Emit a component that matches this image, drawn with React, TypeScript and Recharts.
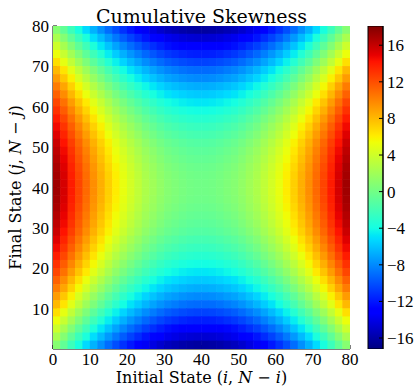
import React from "react";
import { ScatterChart, Scatter, XAxis, YAxis, BarChart, Bar } from "recharts";

// cell centres (2-state wide cells) along the initial-state axis
const stateCenters = [
  1, 3, 5, 7, 9, 11, 13, 15, 17, 19, 21, 23, 25, 27, 29, 31, 33, 35, 37, 39,
  41, 43, 45, 47, 49, 51, 53, 55, 57, 59, 61, 63, 65, 67, 69, 71, 73, 75, 77, 79,
];
// final-state centres, top row first
const rowStates = [
  79, 77, 75, 73, 71, 69, 67, 65, 63, 61, 59, 57, 55, 53, 51, 49, 47, 45, 43, 41,
  39, 37, 35, 33, 31, 29, 27, 25, 23, 21, 19, 17, 15, 13, 11, 9, 7, 5, 3, 1,
];

// cumulative skewness, one string per final-state row (top to bottom)
const skewRows = [
  "0.9 -0.7 -2.3 -3.8 -5.2 -6.6 -7.8 -9.0 -10.1 -11.1 -12.0 -12.8 -13.6 -14.2 -14.8 -15.3 -15.6 -15.9 -16.1 -16.2 -16.2 -16.1 -15.9 -15.6 -15.3 -14.8 -14.2 -13.6 -12.8 -12.0 -11.1 -10.1 -9.0 -7.8 -6.6 -5.2 -3.8 -2.3 -0.7 0.9",
  "2.4 0.8 -0.8 -2.3 -3.7 -5.1 -6.3 -7.5 -8.6 -9.6 -10.5 -11.3 -12.1 -12.7 -13.3 -13.8 -14.1 -14.4 -14.6 -14.7 -14.7 -14.6 -14.4 -14.1 -13.8 -13.3 -12.7 -12.1 -11.3 -10.5 -9.6 -8.6 -7.5 -6.3 -5.1 -3.7 -2.3 -0.8 0.8 2.4",
  "3.9 2.3 0.7 -0.8 -2.2 -3.6 -4.8 -6.0 -7.1 -8.1 -9.0 -9.8 -10.6 -11.2 -11.8 -12.3 -12.6 -12.9 -13.1 -13.2 -13.2 -13.1 -12.9 -12.6 -12.3 -11.8 -11.2 -10.6 -9.8 -9.0 -8.1 -7.1 -6.0 -4.8 -3.6 -2.2 -0.8 0.7 2.3 3.9",
  "5.3 3.7 2.1 0.6 -0.8 -2.2 -3.4 -4.6 -5.7 -6.7 -7.6 -8.4 -9.2 -9.8 -10.4 -10.9 -11.2 -11.5 -11.7 -11.8 -11.8 -11.7 -11.5 -11.2 -10.9 -10.4 -9.8 -9.2 -8.4 -7.6 -6.7 -5.7 -4.6 -3.4 -2.2 -0.8 0.6 2.1 3.7 5.3",
  "6.6 5.0 3.4 1.9 0.5 -0.9 -2.1 -3.3 -4.4 -5.4 -6.3 -7.1 -7.9 -8.5 -9.1 -9.6 -9.9 -10.2 -10.4 -10.5 -10.5 -10.4 -10.2 -9.9 -9.6 -9.1 -8.5 -7.9 -7.1 -6.3 -5.4 -4.4 -3.3 -2.1 -0.9 0.5 1.9 3.4 5.0 6.6",
  "8.0 6.4 4.8 3.3 1.9 0.5 -0.7 -1.9 -3.0 -4.0 -4.9 -5.7 -6.5 -7.1 -7.7 -8.2 -8.5 -8.8 -9.0 -9.1 -9.1 -9.0 -8.8 -8.5 -8.2 -7.7 -7.1 -6.5 -5.7 -4.9 -4.0 -3.0 -1.9 -0.7 0.5 1.9 3.3 4.8 6.4 8.0",
  "9.1 7.5 5.9 4.4 3.0 1.6 0.4 -0.8 -1.9 -2.9 -3.8 -4.6 -5.4 -6.0 -6.6 -7.1 -7.4 -7.7 -7.9 -8.0 -8.0 -7.9 -7.7 -7.4 -7.1 -6.6 -6.0 -5.4 -4.6 -3.8 -2.9 -1.9 -0.8 0.4 1.6 3.0 4.4 5.9 7.5 9.1",
  "10.3 8.7 7.1 5.6 4.2 2.8 1.6 0.4 -0.7 -1.7 -2.6 -3.4 -4.2 -4.8 -5.4 -5.9 -6.2 -6.5 -6.7 -6.8 -6.8 -6.7 -6.5 -6.2 -5.9 -5.4 -4.8 -4.2 -3.4 -2.6 -1.7 -0.7 0.4 1.6 2.8 4.2 5.6 7.1 8.7 10.3",
  "11.3 9.7 8.1 6.6 5.2 3.8 2.6 1.4 0.3 -0.7 -1.6 -2.4 -3.2 -3.8 -4.4 -4.9 -5.2 -5.5 -5.7 -5.8 -5.8 -5.7 -5.5 -5.2 -4.9 -4.4 -3.8 -3.2 -2.4 -1.6 -0.7 0.3 1.4 2.6 3.8 5.2 6.6 8.1 9.7 11.3",
  "12.3 10.7 9.1 7.6 6.2 4.8 3.6 2.4 1.3 0.3 -0.6 -1.4 -2.2 -2.8 -3.4 -3.9 -4.2 -4.5 -4.7 -4.8 -4.8 -4.7 -4.5 -4.2 -3.9 -3.4 -2.8 -2.2 -1.4 -0.6 0.3 1.3 2.4 3.6 4.8 6.2 7.6 9.1 10.7 12.3",
  "13.1 11.5 9.9 8.4 7.0 5.6 4.4 3.2 2.1 1.1 0.2 -0.6 -1.4 -2.0 -2.6 -3.1 -3.4 -3.7 -3.9 -4.0 -4.0 -3.9 -3.7 -3.4 -3.1 -2.6 -2.0 -1.4 -0.6 0.2 1.1 2.1 3.2 4.4 5.6 7.0 8.4 9.9 11.5 13.1",
  "13.9 12.3 10.7 9.2 7.8 6.4 5.2 4.0 2.9 1.9 1.0 0.2 -0.6 -1.2 -1.8 -2.3 -2.6 -2.9 -3.1 -3.2 -3.2 -3.1 -2.9 -2.6 -2.3 -1.8 -1.2 -0.6 0.2 1.0 1.9 2.9 4.0 5.2 6.4 7.8 9.2 10.7 12.3 13.9",
  "14.6 13.0 11.4 9.9 8.5 7.1 5.9 4.7 3.6 2.6 1.7 0.9 0.1 -0.5 -1.1 -1.6 -1.9 -2.2 -2.4 -2.5 -2.5 -2.4 -2.2 -1.9 -1.6 -1.1 -0.5 0.1 0.9 1.7 2.6 3.6 4.7 5.9 7.1 8.5 9.9 11.4 13.0 14.6",
  "15.2 13.6 12.0 10.5 9.1 7.7 6.5 5.3 4.2 3.2 2.3 1.5 0.7 0.1 -0.5 -1.0 -1.3 -1.6 -1.8 -1.9 -1.9 -1.8 -1.6 -1.3 -1.0 -0.5 0.1 0.7 1.5 2.3 3.2 4.2 5.3 6.5 7.7 9.1 10.5 12.0 13.6 15.2",
  "15.8 14.2 12.6 11.1 9.7 8.3 7.1 5.9 4.8 3.8 2.9 2.1 1.3 0.7 0.1 -0.4 -0.7 -1.0 -1.2 -1.3 -1.3 -1.2 -1.0 -0.7 -0.4 0.1 0.7 1.3 2.1 2.9 3.8 4.8 5.9 7.1 8.3 9.7 11.1 12.6 14.2 15.8",
  "16.2 14.6 13.0 11.5 10.1 8.7 7.5 6.3 5.2 4.2 3.3 2.5 1.7 1.1 0.5 0.0 -0.3 -0.6 -0.8 -0.9 -0.9 -0.8 -0.6 -0.3 0.0 0.5 1.1 1.7 2.5 3.3 4.2 5.2 6.3 7.5 8.7 10.1 11.5 13.0 14.6 16.2",
  "16.5 14.9 13.3 11.8 10.4 9.0 7.8 6.6 5.5 4.5 3.6 2.8 2.0 1.4 0.8 0.3 0.0 -0.3 -0.5 -0.6 -0.6 -0.5 -0.3 0.0 0.3 0.8 1.4 2.0 2.8 3.6 4.5 5.5 6.6 7.8 9.0 10.4 11.8 13.3 14.9 16.5",
  "16.8 15.2 13.6 12.1 10.7 9.3 8.1 6.9 5.8 4.8 3.9 3.1 2.3 1.7 1.1 0.6 0.3 0.0 -0.2 -0.3 -0.3 -0.2 0.0 0.3 0.6 1.1 1.7 2.3 3.1 3.9 4.8 5.8 6.9 8.1 9.3 10.7 12.1 13.6 15.2 16.8",
  "17.0 15.4 13.8 12.3 10.9 9.5 8.3 7.1 6.0 5.0 4.1 3.3 2.5 1.9 1.3 0.8 0.5 0.2 0.0 -0.1 -0.1 0.0 0.2 0.5 0.8 1.3 1.9 2.5 3.3 4.1 5.0 6.0 7.1 8.3 9.5 10.9 12.3 13.8 15.4 17.0",
  "17.1 15.5 13.9 12.4 11.0 9.6 8.4 7.2 6.1 5.1 4.2 3.4 2.6 2.0 1.4 0.9 0.6 0.3 0.1 0.0 0.0 0.1 0.3 0.6 0.9 1.4 2.0 2.6 3.4 4.2 5.1 6.1 7.2 8.4 9.6 11.0 12.4 13.9 15.5 17.1",
  "17.1 15.5 13.9 12.4 11.0 9.6 8.4 7.2 6.1 5.1 4.2 3.4 2.6 2.0 1.4 0.9 0.6 0.3 0.1 0.0 0.0 0.1 0.3 0.6 0.9 1.4 2.0 2.6 3.4 4.2 5.1 6.1 7.2 8.4 9.6 11.0 12.4 13.9 15.5 17.1",
  "17.0 15.4 13.8 12.3 10.9 9.5 8.3 7.1 6.0 5.0 4.1 3.3 2.5 1.9 1.3 0.8 0.5 0.2 0.0 -0.1 -0.1 0.0 0.2 0.5 0.8 1.3 1.9 2.5 3.3 4.1 5.0 6.0 7.1 8.3 9.5 10.9 12.3 13.8 15.4 17.0",
  "16.8 15.2 13.6 12.1 10.7 9.3 8.1 6.9 5.8 4.8 3.9 3.1 2.3 1.7 1.1 0.6 0.3 0.0 -0.2 -0.3 -0.3 -0.2 0.0 0.3 0.6 1.1 1.7 2.3 3.1 3.9 4.8 5.8 6.9 8.1 9.3 10.7 12.1 13.6 15.2 16.8",
  "16.5 14.9 13.3 11.8 10.4 9.0 7.8 6.6 5.5 4.5 3.6 2.8 2.0 1.4 0.8 0.3 0.0 -0.3 -0.5 -0.6 -0.6 -0.5 -0.3 0.0 0.3 0.8 1.4 2.0 2.8 3.6 4.5 5.5 6.6 7.8 9.0 10.4 11.8 13.3 14.9 16.5",
  "16.2 14.6 13.0 11.5 10.1 8.7 7.5 6.3 5.2 4.2 3.3 2.5 1.7 1.1 0.5 0.0 -0.3 -0.6 -0.8 -0.9 -0.9 -0.8 -0.6 -0.3 0.0 0.5 1.1 1.7 2.5 3.3 4.2 5.2 6.3 7.5 8.7 10.1 11.5 13.0 14.6 16.2",
  "15.8 14.2 12.6 11.1 9.7 8.3 7.1 5.9 4.8 3.8 2.9 2.1 1.3 0.7 0.1 -0.4 -0.7 -1.0 -1.2 -1.3 -1.3 -1.2 -1.0 -0.7 -0.4 0.1 0.7 1.3 2.1 2.9 3.8 4.8 5.9 7.1 8.3 9.7 11.1 12.6 14.2 15.8",
  "15.2 13.6 12.0 10.5 9.1 7.7 6.5 5.3 4.2 3.2 2.3 1.5 0.7 0.1 -0.5 -1.0 -1.3 -1.6 -1.8 -1.9 -1.9 -1.8 -1.6 -1.3 -1.0 -0.5 0.1 0.7 1.5 2.3 3.2 4.2 5.3 6.5 7.7 9.1 10.5 12.0 13.6 15.2",
  "14.6 13.0 11.4 9.9 8.5 7.1 5.9 4.7 3.6 2.6 1.7 0.9 0.1 -0.5 -1.1 -1.6 -1.9 -2.2 -2.4 -2.5 -2.5 -2.4 -2.2 -1.9 -1.6 -1.1 -0.5 0.1 0.9 1.7 2.6 3.6 4.7 5.9 7.1 8.5 9.9 11.4 13.0 14.6",
  "13.9 12.3 10.7 9.2 7.8 6.4 5.2 4.0 2.9 1.9 1.0 0.2 -0.6 -1.2 -1.8 -2.3 -2.6 -2.9 -3.1 -3.2 -3.2 -3.1 -2.9 -2.6 -2.3 -1.8 -1.2 -0.6 0.2 1.0 1.9 2.9 4.0 5.2 6.4 7.8 9.2 10.7 12.3 13.9",
  "13.1 11.5 9.9 8.4 7.0 5.6 4.4 3.2 2.1 1.1 0.2 -0.6 -1.4 -2.0 -2.6 -3.1 -3.4 -3.7 -3.9 -4.0 -4.0 -3.9 -3.7 -3.4 -3.1 -2.6 -2.0 -1.4 -0.6 0.2 1.1 2.1 3.2 4.4 5.6 7.0 8.4 9.9 11.5 13.1",
  "12.3 10.7 9.1 7.6 6.2 4.8 3.6 2.4 1.3 0.3 -0.6 -1.4 -2.2 -2.8 -3.4 -3.9 -4.2 -4.5 -4.7 -4.8 -4.8 -4.7 -4.5 -4.2 -3.9 -3.4 -2.8 -2.2 -1.4 -0.6 0.3 1.3 2.4 3.6 4.8 6.2 7.6 9.1 10.7 12.3",
  "11.3 9.7 8.1 6.6 5.2 3.8 2.6 1.4 0.3 -0.7 -1.6 -2.4 -3.2 -3.8 -4.4 -4.9 -5.2 -5.5 -5.7 -5.8 -5.8 -5.7 -5.5 -5.2 -4.9 -4.4 -3.8 -3.2 -2.4 -1.6 -0.7 0.3 1.4 2.6 3.8 5.2 6.6 8.1 9.7 11.3",
  "10.3 8.7 7.1 5.6 4.2 2.8 1.6 0.4 -0.7 -1.7 -2.6 -3.4 -4.2 -4.8 -5.4 -5.9 -6.2 -6.5 -6.7 -6.8 -6.8 -6.7 -6.5 -6.2 -5.9 -5.4 -4.8 -4.2 -3.4 -2.6 -1.7 -0.7 0.4 1.6 2.8 4.2 5.6 7.1 8.7 10.3",
  "9.1 7.5 5.9 4.4 3.0 1.6 0.4 -0.8 -1.9 -2.9 -3.8 -4.6 -5.4 -6.0 -6.6 -7.1 -7.4 -7.7 -7.9 -8.0 -8.0 -7.9 -7.7 -7.4 -7.1 -6.6 -6.0 -5.4 -4.6 -3.8 -2.9 -1.9 -0.8 0.4 1.6 3.0 4.4 5.9 7.5 9.1",
  "8.0 6.4 4.8 3.3 1.9 0.5 -0.7 -1.9 -3.0 -4.0 -4.9 -5.7 -6.5 -7.1 -7.7 -8.2 -8.5 -8.8 -9.0 -9.1 -9.1 -9.0 -8.8 -8.5 -8.2 -7.7 -7.1 -6.5 -5.7 -4.9 -4.0 -3.0 -1.9 -0.7 0.5 1.9 3.3 4.8 6.4 8.0",
  "6.6 5.0 3.4 1.9 0.5 -0.9 -2.1 -3.3 -4.4 -5.4 -6.3 -7.1 -7.9 -8.5 -9.1 -9.6 -9.9 -10.2 -10.4 -10.5 -10.5 -10.4 -10.2 -9.9 -9.6 -9.1 -8.5 -7.9 -7.1 -6.3 -5.4 -4.4 -3.3 -2.1 -0.9 0.5 1.9 3.4 5.0 6.6",
  "5.3 3.7 2.1 0.6 -0.8 -2.2 -3.4 -4.6 -5.7 -6.7 -7.6 -8.4 -9.2 -9.8 -10.4 -10.9 -11.2 -11.5 -11.7 -11.8 -11.8 -11.7 -11.5 -11.2 -10.9 -10.4 -9.8 -9.2 -8.4 -7.6 -6.7 -5.7 -4.6 -3.4 -2.2 -0.8 0.6 2.1 3.7 5.3",
  "3.9 2.3 0.7 -0.8 -2.2 -3.6 -4.8 -6.0 -7.1 -8.1 -9.0 -9.8 -10.6 -11.2 -11.8 -12.3 -12.6 -12.9 -13.1 -13.2 -13.2 -13.1 -12.9 -12.6 -12.3 -11.8 -11.2 -10.6 -9.8 -9.0 -8.1 -7.1 -6.0 -4.8 -3.6 -2.2 -0.8 0.7 2.3 3.9",
  "2.4 0.8 -0.8 -2.3 -3.7 -5.1 -6.3 -7.5 -8.6 -9.6 -10.5 -11.3 -12.1 -12.7 -13.3 -13.8 -14.1 -14.4 -14.6 -14.7 -14.7 -14.6 -14.4 -14.1 -13.8 -13.3 -12.7 -12.1 -11.3 -10.5 -9.6 -8.6 -7.5 -6.3 -5.1 -3.7 -2.3 -0.8 0.8 2.4",
  "0.9 -0.7 -2.3 -3.8 -5.2 -6.6 -7.8 -9.0 -10.1 -11.1 -12.0 -12.8 -13.6 -14.2 -14.8 -15.3 -15.6 -15.9 -16.1 -16.2 -16.2 -16.1 -15.9 -15.6 -15.3 -14.8 -14.2 -13.6 -12.8 -12.0 -11.1 -10.1 -9.0 -7.8 -6.6 -5.2 -3.8 -2.3 -0.7 0.9",
];

const xTicks = [0, 10, 20, 30, 40, 50, 60, 70, 80];
const yTicks = [10, 20, 30, 40, 50, 60, 70, 80];
const innerTicks = [10, 20, 30, 40, 50, 60, 70];
const colorbarTicks = [-16, -12, -8, -4, 0, 4, 8, 12, 16];

// colour scale limits
const VMIN = -17.2;
const VMAX = 18.1;
const colorbarData = [{ name: "skew", span: [VMIN, VMAX] }];

const cells = skewRows.flatMap((row, r) =>
  row.split(" ").map((s, c) => ({ x: stateCenters[c], y: rowStates[r], v: Number(s) }))
);

// matplotlib "jet" segment data
const JET_R = [[0, 0], [0.35, 0], [0.66, 1], [0.89, 1], [1, 0.5]];
const JET_G = [[0, 0], [0.125, 0], [0.375, 1], [0.64, 1], [0.91, 0], [1, 0]];
const JET_B = [[0, 0.5], [0.11, 1], [0.34, 1], [0.65, 0], [1, 0]];
const JET_STOPS = [0, 0.11, 0.125, 0.34, 0.35, 0.375, 0.64, 0.65, 0.66, 0.89, 0.91, 1];

function seg(pts: number[][], t: number) {
  for (let k = 1; k < pts.length; k++) {
    if (t <= pts[k][0]) {
      const [t0, v0] = pts[k - 1];
      const [t1, v1] = pts[k];
      return v0 + ((v1 - v0) * (t - t0)) / (t1 - t0);
    }
  }
  return pts[pts.length - 1][1];
}

function jetAt(t: number) {
  const c = Math.min(1, Math.max(0, t));
  const r = Math.round(seg(JET_R, c) * 255);
  const g = Math.round(seg(JET_G, c) * 255);
  const b = Math.round(seg(JET_B, c) * 255);
  return `rgb(${r},${g},${b})`;
}

const colorFor = (v: number) => jetAt((v - VMIN) / (VMAX - VMIN));

// layout
const PLOT_LEFT = 53;
const PLOT_TOP = 26;
const PLOT_W = 297;
const PLOT_H = 323;
const BOTTOM_SPACE = 386 - PLOT_TOP - PLOT_H;
const CELL_W = PLOT_W / stateCenters.length;
const CELL_H = PLOT_H / rowStates.length;

const FONT = "'DejaVu Serif', serif";
const TICK_FONT = "'Liberation Serif', serif";
const tickStyle = { fill: "#000", fontSize: 17, fontFamily: TICK_FONT };

const HeatCell = (props: any) => {
  const { cx, cy, payload } = props;
  if (cx == null || cy == null) return null;
  return (
    <rect
      x={cx - CELL_W / 2 - 0.3}
      y={cy - CELL_H / 2 - 0.3}
      width={CELL_W + 0.6}
      height={CELL_H + 0.6}
      fill={colorFor(payload.v)}
    />
  );
};

const minus = (v: number) => (v < 0 ? `\u2212${Math.abs(v)}` : `${v}`);

export default function App() {
  return (
    <div
      style={{
        position: "absolute",
        left: 0,
        top: 0,
        width: 418,
        height: 386,
        background: "#fff",
        overflow: "hidden",
      }}
    >
      <svg width={0} height={0} style={{ position: "absolute" }}>
        <defs>
          <linearGradient id="jetGrad" x1="0" y1="1" x2="0" y2="0">
            {JET_STOPS.map((t) => (
              <stop key={t} offset={t} stopColor={jetAt(t)} />
            ))}
          </linearGradient>
        </defs>
      </svg>

      <div style={{ position: "absolute", left: 0, top: 0 }}>
        <ScatterChart
          width={PLOT_LEFT + PLOT_W + 10}
          height={386}
          margin={{ top: PLOT_TOP, right: 10, bottom: 0, left: 0 }}
        >
          <XAxis
            xAxisId="b"
            type="number"
            dataKey="x"
            domain={[0, 80]}
            allowDataOverflow
            ticks={xTicks}
            interval={0}
            height={BOTTOM_SPACE}
            tickSize={-4}
            tickMargin={8}
            tick={tickStyle}
            axisLine={{ stroke: "#000" }}
            tickLine={{ stroke: "#000" }}
          />
          <XAxis
            xAxisId="t"
            orientation="top"
            type="number"
            domain={[0, 80]}
            allowDataOverflow
            ticks={innerTicks}
            interval={0}
            height={0}
            tickSize={-4}
            tickFormatter={() => ""}
            axisLine={{ stroke: "#000" }}
            tickLine={{ stroke: "#000" }}
          />
          <YAxis
            yAxisId="l"
            type="number"
            dataKey="y"
            domain={[0, 80]}
            allowDataOverflow
            ticks={yTicks}
            interval={0}
            width={PLOT_LEFT}
            tickSize={-4}
            tickMargin={8}
            tick={tickStyle}
            axisLine={{ stroke: "#000" }}
            tickLine={{ stroke: "#000" }}
          />
          <YAxis
            yAxisId="r"
            orientation="right"
            type="number"
            domain={[0, 80]}
            allowDataOverflow
            ticks={innerTicks}
            interval={0}
            width={0}
            tickSize={-4}
            tickFormatter={() => ""}
            axisLine={{ stroke: "#000" }}
            tickLine={{ stroke: "#000" }}
          />
          <Scatter
            xAxisId="b"
            yAxisId="l"
            data={cells}
            shape={HeatCell}
            isAnimationActive={false}
          />
        </ScatterChart>
      </div>

      <div style={{ position: "absolute", left: 360, top: 0 }}>
        <BarChart
          width={58}
          height={386}
          data={colorbarData}
          barCategoryGap={0}
          margin={{ top: PLOT_TOP, right: 0, bottom: BOTTOM_SPACE, left: 8 }}
        >
          <XAxis dataKey="name" hide />
          <YAxis
            orientation="right"
            type="number"
            domain={[VMIN, VMAX]}
            allowDataOverflow
            ticks={colorbarTicks}
            interval={0}
            width={35}
            tickSize={-4}
            tickMargin={8}
            tick={tickStyle}
            tickFormatter={minus}
            axisLine={{ stroke: "#000" }}
            tickLine={{ stroke: "#000" }}
          />
          <Bar
            dataKey="span"
            fill="url(#jetGrad)"
            stroke="#000"
            strokeWidth={1}
            isAnimationActive={false}
          />
        </BarChart>
      </div>

      <svg
        width={418}
        height={386}
        style={{ position: "absolute", left: 0, top: 0, pointerEvents: "none" }}
      >
        <text x={201.5} y={23} textAnchor="middle" fontFamily={FONT} fontSize={19} fill="#000">
          Cumulative Skewness
        </text>
        <text x={201.5} y={382.5} textAnchor="middle" fontFamily={FONT} fontSize={16} fill="#000">
          Initial State (<tspan fontStyle="italic">i</tspan>, <tspan fontStyle="italic">N</tspan>
          {" \u2212 "}
          <tspan fontStyle="italic">i</tspan>)
        </text>
        <text
          x={20.5}
          y={187.5}
          textAnchor="middle"
          fontFamily={FONT}
          fontSize={16}
          fill="#000"
          transform="rotate(-90 20.5 187.5)"
        >
          Final State (<tspan fontStyle="italic">j</tspan>, <tspan fontStyle="italic">N</tspan>
          {" \u2212 "}
          <tspan fontStyle="italic">j</tspan>)
        </text>
      </svg>
    </div>
  );
}
